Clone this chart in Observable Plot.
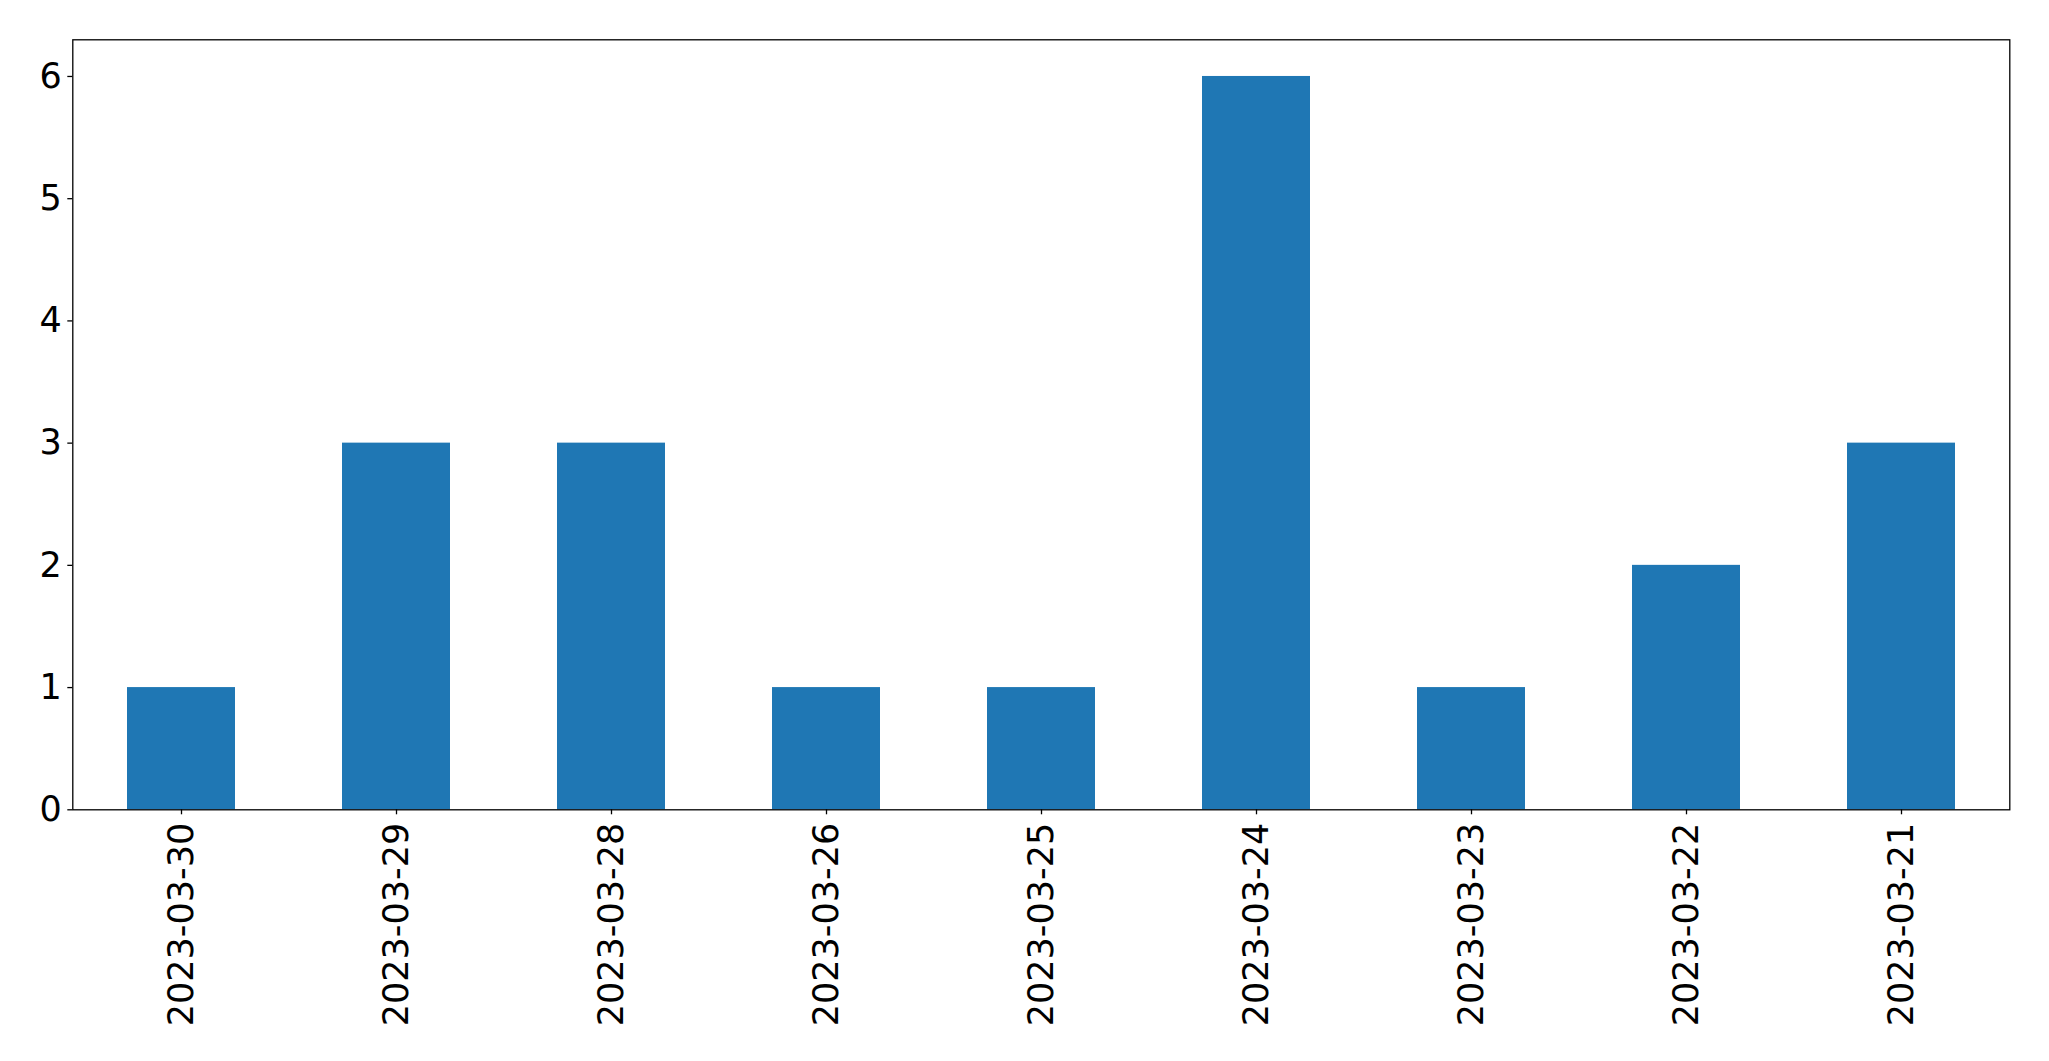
<!DOCTYPE html>
<html>
<head>
<meta charset="utf-8">
<script src="https://cdn.jsdelivr.net/npm/d3@7"></script>
<script src="https://cdn.jsdelivr.net/npm/@observablehq/plot@0.6"></script>
<style>
  html, body { margin: 0; padding: 0; background: #fff; }
  #chart svg { display: block; }
</style>
</head>
<body>
<div id="chart"></div>
<script>
const dates = ["2023-03-30", "2023-03-29", "2023-03-28", "2023-03-26", "2023-03-25", "2023-03-24", "2023-03-23", "2023-03-22", "2023-03-21"];
const counts = [1, 3, 3, 1, 1, 6, 1, 2, 3];
const yTicks = [0, 1, 2, 3, 4, 5, 6];

const data = dates.map((d, i) => ({date: d, count: counts[i]}));

const chart = Plot.plot({
  width: 2049,
  height: 1061,
  marginLeft: 72.3,
  marginRight: 39.7,
  marginTop: 39.3,
  marginBottom: 251.7,
  style: {fontFamily: "DejaVu Sans", fontSize: "35px", color: "#000", background: "#fff"},
  x: {domain: dates, paddingInner: 0.5, paddingOuter: 0.25, label: null},
  y: {domain: [0, 6.3], label: null},
  marks: [
    Plot.barY(data, {x: "date", y: "count", fill: "#1f77b4"}),
    Plot.frame({stroke: "#000", strokeWidth: 1.3}),
    Plot.axisY({ticks: yTicks, tickFormat: d => String(d), tickSize: 5, tickPadding: 6, fontSize: 35, label: null, strokeWidth: 1.3}),
    Plot.axisX({tickRotate: -90, tickSize: 5, tickPadding: 8, fontSize: 35, label: null, strokeWidth: 1.3})
  ]
});
document.getElementById("chart").append(chart);
</script>
</body>
</html>
